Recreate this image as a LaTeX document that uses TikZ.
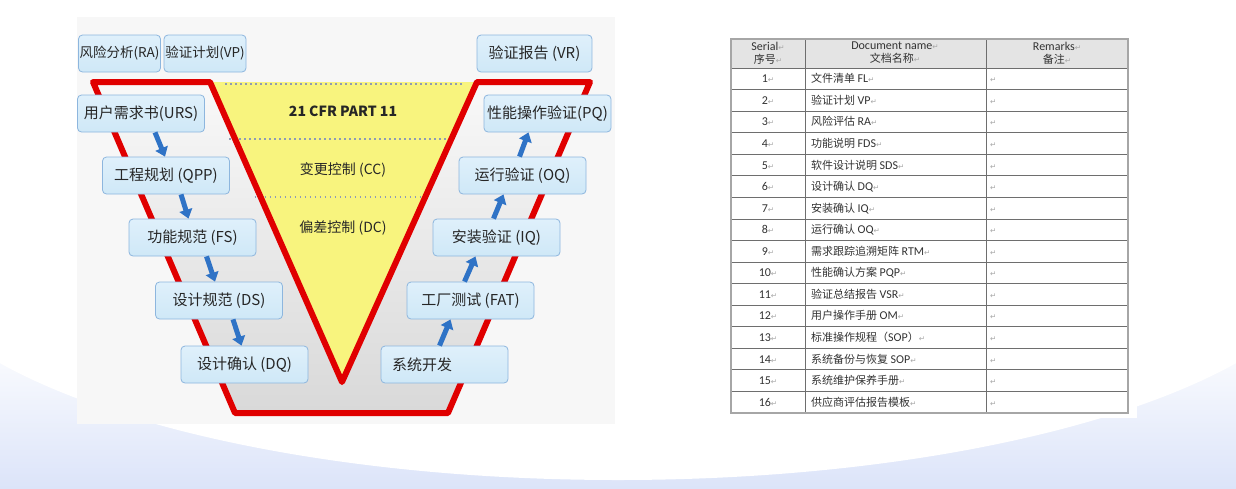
\documentclass[tikz,border=0pt]{standalone}
\usepackage{fontspec}
\usepackage{tikz}
\usetikzlibrary{arrows.meta,calc}
\setmainfont{Carlito}
\newfontfamily\cjk{Noto Sans CJK SC}
\newfontfamily\symf{DejaVu Sans}
\definecolor{vred}{HTML}{E00000}
\definecolor{vyellow}{HTML}{F8F47E}
\definecolor{boxfill}{HTML}{CFE8F7}
\definecolor{boxtop}{HTML}{DFF0FB}
\definecolor{boxline}{HTML}{8DB6DE}
\definecolor{flowc}{HTML}{2F73C6}
\definecolor{dotc}{HTML}{8E9BB4}
\definecolor{panelc}{HTML}{F7F7F7}
\definecolor{bgblue}{HTML}{DCE4F9}
\definecolor{gridc}{HTML}{6E6E6E}
\definecolor{headc}{HTML}{E4E4E4}
\definecolor{retc}{HTML}{A8A8A8}
\newcommand{\retmark}{{\symf\color{retc}\fontsize{7.5}{8}\selectfont ↵}}
\newcommand{\tabzh}{\cjk\fontsize{11}{13}\selectfont}
\newcommand{\tablat}{\rmfamily\fontsize{12}{13}\selectfont}
\tikzset{
  stage/.style={draw=boxline, line width=0.8pt, rounded corners=4pt,
                top color=boxtop, bottom color=boxfill, align=center,
                font=\cjk\fontsize{15}{17}\selectfont, text=black!85,
                minimum width=127pt, minimum height=37pt, inner sep=1pt},
  doc/.style={stage, minimum width=82pt, font=\cjk\fontsize{13.5}{15}\selectfont},
  flow/.style={-{Triangle[width=13pt,length=9pt]}, line width=5pt, draw=flowc},
  gate/.style={font=\cjk\fontsize{14}{16}\selectfont, text=black!85},
  dots/.style={draw=dotc, line width=1.8pt, dash pattern=on 1.8pt off 3.2pt},
  redline/.style={draw=vred, line width=6pt, line join=round},
  cell/.style={inner sep=0pt, text=black!80, font=\tablat},
}

\begin{document}
\begin{tikzpicture}[x=1pt,y=-1pt]
  \useasboundingbox (0,0) rectangle (1236,488);
  \clip (0,0) rectangle (1236,488);

  % background
  \fill[white] (0,0) rectangle (1236,330);
  \fill[top color=white, bottom color=bgblue] (0,330) rectangle (1236,488);
  \fill[white] (618,240) ellipse [x radius=720, y radius=240];
  \fill[panelc] (77,17) rectangle (615,424);
  \fill[white] (715,30) rectangle (1137,418);

  % the V
  \coordinate (ol) at (93,82);
  \coordinate (obl) at (235,413);
  \coordinate (obr) at (448,413);
  \coordinate (or) at (590,82);
  \coordinate (vl) at (210,82);
  \coordinate (vt) at (342,382);
  \coordinate (vr) at (477,82);
  \fill[top color=gray!5, bottom color=gray!30] (ol) -- (obl) -- (obr) -- (or) -- cycle;
  \fill[vyellow] (vl) -- (vt) -- (vr) -- cycle;
  \draw[dots] ($(vl)+(15,2)$) -- ($(vr)+(-15,2)$);
  \draw[dots] ($(vl)!0.19!(vt)+(-6,0)$) -- ($(vr)!0.19!(vt)+(-4,0)$);
  \draw[dots] ($(vl)!0.383!(vt)+(-6,0)$) -- ($(vr)!0.383!(vt)+(-4,0)$);
  \draw[redline] (vr) -- (or) -- (obr) -- (obl) -- (ol) -- (vl) -- (vt) -- cycle;

  \node[gate, font=\cjk\bfseries\fontsize{14}{16}\selectfont] (cfr) at (343,111) {21 CFR PART 11};
  \node[gate] (cc) at (343,170) {变更控制 (CC)};
  \node[gate] (dc) at (343,228) {偏差控制 (DC)};

  \node[doc] (ra) at (119.5,53.5) {风险分析(RA)};
  \node[doc] (vp) at (205,53.5) {验证计划(VP)};
  \node[stage, minimum width=115pt] (vrep) at (534.5,53.5) {验证报告 (VR)};

  \node[stage] (urs) at (141,113.5) {用户需求书(URS)};
  \node[stage] (qpp) at (166,175.5) {工程规划 (QPP)};
  \node[stage] (fs) at (192.5,237.5) {功能规范 (FS)};
  \node[stage] (ds) at (219,300.5) {设计规范 (DS)};
  \node[stage] (dq) at (244.5,364.5) {设计确认 (DQ)};

  \node[stage, align=left, text width=105pt] (dev) at (444.5,364.5) {系统开发};
  \node[stage] (fat) at (470.5,300.5) {工厂测试 (FAT)};
  \node[stage] (iq) at (496.5,237.5) {安装验证 (IQ)};
  \node[stage] (oq) at (522.5,175.5) {运行验证 (OQ)};
  \node[stage] (pq) at (547.5,113.5) {性能操作验证(PQ)};

  \draw[flow] ([xshift=14pt]urs.south) -- ([xshift=-1pt]qpp.north);
  \draw[flow] ([xshift=15pt]qpp.south) -- ([xshift=-4pt]fs.north);
  \draw[flow] ([xshift=14pt]fs.south) -- ([xshift=-4pt]ds.north);
  \draw[flow] ([xshift=14pt]ds.south) -- ([xshift=-3pt]dq.north);
  \draw[flow] ([xshift=-5pt]dev.north) -- ([xshift=-20pt]fat.south);
  \draw[flow] ([xshift=-6pt]fat.north) -- ([xshift=-21pt]iq.south);
  \draw[flow] ([xshift=-3pt]iq.north) -- ([xshift=-19pt]oq.south);
  \draw[flow] ([xshift=-3pt]oq.north) -- ([xshift=-19pt]pq.south);

  % document table
  \fill[headc] (731,39) rectangle (1128,68);
  \foreach \k in {0,...,16}
    \draw[gridc, line width=0.8pt] (731,{68+21.5625*\k}) -- (1128,{68+21.5625*\k});
  \foreach \x in {805,986}
    \draw[gridc, line width=0.8pt] (\x,39) -- (\x,413);
  \draw[gray!70, line width=1.4pt] (731,39) rectangle (1128,413);

  \node[cell, align=center] (hno) at (768,53) {\tablat Serial\retmark\\\tabzh 序号\retmark};
  \node[cell, align=center] (hdoc) at (895,53) {\tablat Document name\retmark\\\tabzh 文档名称\retmark};
  \node[cell, align=center] (hrem) at (1057,53) {\tablat Remarks\retmark\\\tabzh 备注\retmark};

  \foreach \n/\t in {1/{\tabzh 文件清单 \tablat FL},
                     2/{\tabzh 验证计划 \tablat VP},
                     3/{\tabzh 风险评估 \tablat RA},
                     4/{\tabzh 功能说明 \tablat FDS},
                     5/{\tabzh 软件设计说明 \tablat SDS},
                     6/{\tabzh 设计确认 \tablat DQ},
                     7/{\tabzh 安装确认 \tablat IQ},
                     8/{\tabzh 运行确认 \tablat OQ},
                     9/{\tabzh 需求跟踪追溯矩阵 \tablat RTM},
                     10/{\tabzh 性能确认方案 \tablat PQP},
                     11/{\tabzh 验证总结报告 \tablat VSR},
                     12/{\tabzh 用户操作手册 \tablat OM},
                     13/{\tabzh 标准操作规程（\tablat SOP\tabzh ）},
                     14/{\tabzh 系统备份与恢复 \tablat SOP},
                     15/{\tabzh 系统维护保养手册},
                     16/{\tabzh 供应商评估报告模板}} {
    \node[cell, anchor=base] (no\n) at (768,{68+21.5625*(\n-0.5)+4}) {\tablat\n\retmark};
    \node[cell, anchor=base west] (doc\n) at (811,{68+21.5625*(\n-0.5)+4}) {\t\retmark};
    \node[cell, anchor=base west] (rem\n) at (990,{68+21.5625*(\n-0.5)+4}) {\retmark};
  }
\end{tikzpicture}
\end{document}
